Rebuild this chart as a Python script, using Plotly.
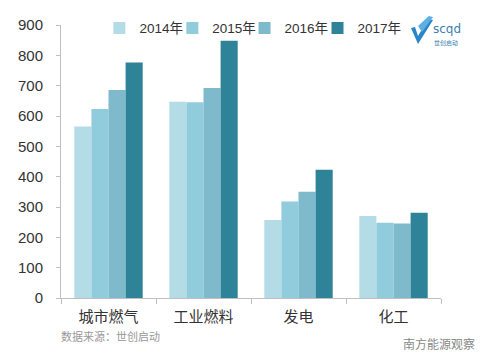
import plotly.graph_objects as go

categories = ["城市燃气", "工业燃料", "发电", "化工"]
years = ["2014年", "2015年", "2016年", "2017年"]
v2014 = [565, 647, 257, 270]
v2015 = [623, 645, 318, 248]
v2016 = [686, 692, 350, 246]
v2017 = [776, 848, 423, 281]
series = [v2014, v2015, v2016, v2017]
colors = ["#b4dce7", "#91ccdc", "#7eb9cc", "#2f8399"]
legend_ids = ["legend", "legend2", "legend3", "legend4"]
legend_x = [0.101, 0.293, 0.483, 0.675]

fig = go.Figure()
for name, vals, c, lid in zip(years, series, colors, legend_ids):
    fig.add_trace(go.Bar(x=categories, y=vals, name=name, marker_color=c,
                         marker_line_width=0, legend=lid))

font = "Noto Sans CJK SC, Noto Sans, sans-serif"
leg_common = dict(orientation="h", y=1.045, xanchor="left", yanchor="top",
                  font=dict(size=13.5, color="#333333",
                            family="Liberation Sans, Noto Sans CJK SC"),
                  itemwidth=30, bgcolor="rgba(0,0,0,0)")
fig.update_layout(
    width=492, height=364,
    margin=dict(l=61, r=51, t=25, b=66),
    paper_bgcolor="white", plot_bgcolor="white",
    barmode="group", bargap=0.28, bargroupgap=0,
    font=dict(family=font, size=13, color="#333333"),
    showlegend=True,
)
for lid, lx in zip(legend_ids, legend_x):
    fig.update_layout({lid: dict(x=lx, **leg_common)})

fig.update_yaxes(range=[0, 900], dtick=100, showgrid=False, showline=True,
                 linecolor="#bfbfbf", linewidth=1, ticks="outside",
                 ticklen=4, tickcolor="#bfbfbf", zeroline=False,
                 ticklabelstandoff=10,
                 tickfont=dict(size=15, color="#333333", family="Liberation Sans, sans-serif"))
fig.update_xaxes(showgrid=False, showline=True, linecolor="#bfbfbf",
                 linewidth=1, ticks="outside", ticklen=5, tickcolor="#bfbfbf",
                 tickson="boundaries", ticklabelstandoff=5,
                 tickfont=dict(size=15, color="#333333"))

fig.add_annotation(text="数据来源：世创启动", xref="paper", yref="paper",
                   x=-0.005, y=-0.14, xanchor="left", yanchor="middle",
                   showarrow=False, font=dict(size=11, color="#999999", family=font))
fig.add_annotation(text="南方能源观察", xref="paper", yref="paper",
                   x=1.095, y=-0.168, xanchor="right", yanchor="middle",
                   showarrow=False, font=dict(size=12, color="#888888", family=font))
fig.add_annotation(text="scqd", xref="paper", yref="paper",
                   x=0.974, y=0.985, xanchor="left", yanchor="middle",
                   showarrow=False, font=dict(size=12, color="#3b7fb0", family="DejaVu Sans"))
fig.add_annotation(text="世创启动", xref="paper", yref="paper",
                   x=0.976, y=0.937, xanchor="left", yanchor="middle",
                   showarrow=False, font=dict(size=6, color="#3b7fb0", family=font))
# logo stripes
fig.add_shape(type="path", xref="paper", yref="paper",
              path="M 0.921,0.989 L 0.9395,0.930 L 0.979,1.018 L 0.966,1.022 L 0.9395,0.960 L 0.9316,0.993 Z",
              fillcolor="#2a86c8", line_width=0)
fig.add_shape(type="path", xref="paper", yref="paper",
              path="M 0.9395,0.996 L 0.95,0.974 L 0.979,1.029 L 0.968,1.033 Z",
              fillcolor="#5fb0e2", line_width=0)

fig.write_html("out.html", post_script="document.body.style.margin='0';",
               config={"displayModeBar": False})
